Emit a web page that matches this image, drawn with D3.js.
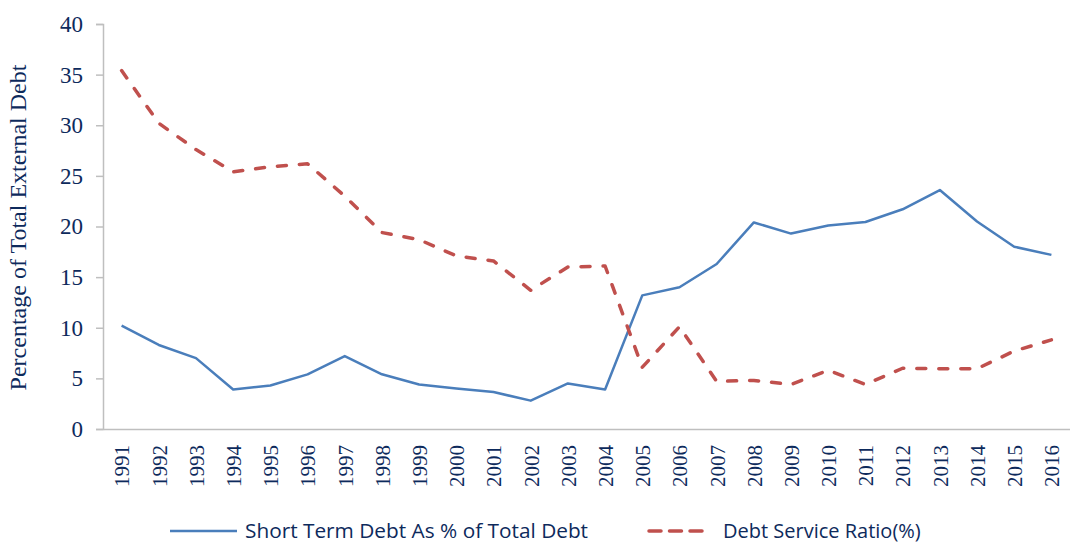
<!DOCTYPE html>
<html>
<head>
<meta charset="utf-8">
<script src="https://cdn.jsdelivr.net/npm/d3@7"></script>
<style>
  body { margin: 0; background: #fff; }
  svg { display: block; }
</style>
</head>
<body>
<svg id="chart" width="1070" height="545"></svg>
<script>
// data
const years = ['1991','1992','1993','1994','1995','1996','1997','1998','1999','2000','2001','2002','2003',
               '2004','2005','2006','2007','2008','2009','2010','2011','2012','2013','2014','2015','2016']
const shortTermDebt = [10.2, 8.3, 7.0, 3.9, 4.3, 5.4, 7.2, 5.4, 4.4, 4.0, 3.65, 2.8, 4.5,
                       3.9, 13.2, 14.0, 16.3, 20.4, 19.3, 20.1, 20.45, 21.7, 23.6, 20.5, 18.0, 17.2]
const debtService = [35.4, 30.2, 27.6, 25.4, 25.9, 26.2, 23.0, 19.4, 18.7, 17.1, 16.6, 13.7, 16.0,
                     16.1, 6.1, 10.1, 4.7, 4.8, 4.4, 5.8, 4.4, 6.0, 5.95, 5.95, 7.7, 8.8]
const yTicks = [0, 5, 10, 15, 20, 25, 30, 35, 40]
const seriesNames = ['Short Term Debt As % of Total Debt', 'Debt Service Ratio(%)']

const svg = d3.select('#chart')
const margin = {top: 24, right: 0, bottom: 116, left: 103}
const width = 1070 - margin.left - margin.right
const height = 545 - margin.top - margin.bottom
const textColor = '#0d2a5c'
const axisColor = '#bfbfbf'
const serif = '"Liberation Serif", "Times New Roman", serif'

const g = svg.append('g').attr('transform', `translate(${margin.left},${margin.top})`)

const x = d3.scalePoint().domain(years).range([0, width]).padding(0.5)
const y = d3.scaleLinear().domain([0, 40]).range([height, 0])

// y axis
const yAxis = g.append('g')
    .call(d3.axisLeft(y).tickValues(yTicks).tickSize(7).tickPadding(13))
yAxis.attr('font-family', serif).attr('font-size', 23)
yAxis.select('.domain').attr('stroke', axisColor).attr('stroke-width', 1.5)
yAxis.selectAll('.tick line').attr('stroke', axisColor).attr('stroke-width', 1.5)
yAxis.selectAll('text').attr('fill', textColor)

// x axis
const xAxis = g.append('g')
    .attr('transform', `translate(0,${height})`)
    .call(d3.axisBottom(x).tickSize(0).tickPadding(0))
xAxis.attr('font-family', serif).attr('font-size', 21)
xAxis.select('.domain').attr('stroke', axisColor).attr('stroke-width', 1.5)
xAxis.selectAll('text')
    .attr('fill', textColor)
    .attr('transform', 'rotate(-90)')
    .attr('text-anchor', 'end')
    .attr('dy', '0.35em')
    .attr('x', -16)
    .attr('y', 0)

// y axis title
svg.append('text')
    .attr('transform', `translate(26,${margin.top + height / 2 + 1}) rotate(-90)`)
    .attr('text-anchor', 'middle')
    .attr('fill', textColor)
    .attr('font-family', serif)
    .attr('font-size', 24)
    .text('Percentage of Total External Debt')

const line = d3.line()
    .x((d, i) => x(years[i]))
    .y(d => y(d))

g.append('path')
    .datum(shortTermDebt)
    .attr('fill', 'none')
    .attr('stroke', '#4a7ebb')
    .attr('stroke-width', 2.5)
    .attr('stroke-linejoin', 'round')
    .attr('d', line)

g.append('path')
    .datum(debtService)
    .attr('fill', 'none')
    .attr('stroke', '#c0504d')
    .attr('stroke-width', 3.5)
    .attr('stroke-linecap', 'round')
    .attr('stroke-linejoin', 'round')
    .attr('stroke-dasharray', '9,13')
    .attr('d', line)

// legend
const legend = svg.append('g').attr('transform', 'translate(0,531)')
const legendItems = [
    {name: seriesNames[0], color: '#4a7ebb', dash: null, x0: 170, x1: 237, tx: 245, size: 20.8},
    {name: seriesNames[1], color: '#c0504d', dash: '12,8.5', x0: 649, x1: 704, tx: 723, size: 20}
]
legendItems.forEach(d => {
    legend.append('line')
        .attr('x1', d.x0).attr('x2', d.x1)
        .attr('stroke', d.color)
        .attr('stroke-width', d.dash ? 3.5 : 2.5)
        .attr('stroke-linecap', d.dash ? 'round' : 'butt')
        .attr('stroke-dasharray', d.dash)
    legend.append('text')
        .attr('x', d.tx)
        .attr('dy', '0.35em')
        .attr('fill', textColor)
        .attr('font-family', '"Open Sans", sans-serif')
        .attr('font-size', d.size)
        .text(d.name)
})
</script>
</body>
</html>
